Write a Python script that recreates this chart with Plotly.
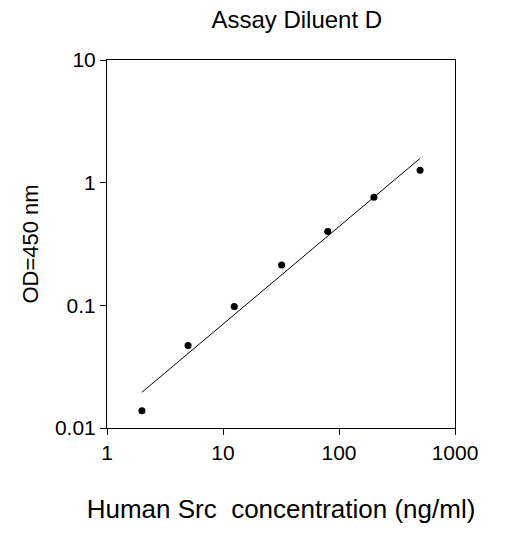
import numpy as np
import plotly.graph_objects as go

conc = [2, 5, 12.5, 32, 80, 200, 500]
od = [0.0138, 0.047, 0.098, 0.213, 0.40, 0.76, 1.26]

lx = np.log10(conc); ly = np.log10(od)
m, b = np.polyfit(lx, ly, 1)
fx = np.array([conc[0], conc[-1]])
fy = 10 ** (m * np.log10(fx) + b)

fig = go.Figure()
fig.add_trace(go.Scatter(x=fx, y=fy, mode="lines", line=dict(color="black", width=1)))
fig.add_trace(go.Scatter(x=conc, y=od, mode="markers", marker=dict(color="black", size=7)))
ax = dict(type="log", showgrid=False, zeroline=False, showline=True, linecolor="black", linewidth=1,
          mirror=True, ticks="outside", ticklen=6, tickcolor="black",
          tickfont=dict(family="Arial, Liberation Sans", size=21, color="black"))
fig.update_layout(
    width=525, height=544, showlegend=False, plot_bgcolor="white", paper_bgcolor="white",
    margin=dict(l=99, r=78, t=52, b=124),
    title=dict(text="Assay Diluent D", x=0.55, xanchor="center", y=0.995, yanchor="top",
               font=dict(family="Arial, Liberation Sans", size=24, color="black")),
    xaxis=dict(ax, range=[0, 3], tickvals=[1, 10, 100, 1000], ticktext=["1", "10", "100", "1000"],
               title=dict(text="Human Src  concentration (ng/ml)", standoff=36,
                          font=dict(family="Arial, Liberation Sans", size=26, color="black"))),
    yaxis=dict(ax, range=[-2, 1], tickvals=[0.01, 0.1, 1, 10], ticktext=["0.01", "0.1", "1", "10"],
               title=dict(text="OD=450 nm", standoff=10,
                          font=dict(family="Arial, Liberation Sans", size=22, color="black"))),
)
fig.write_html("out.html")
